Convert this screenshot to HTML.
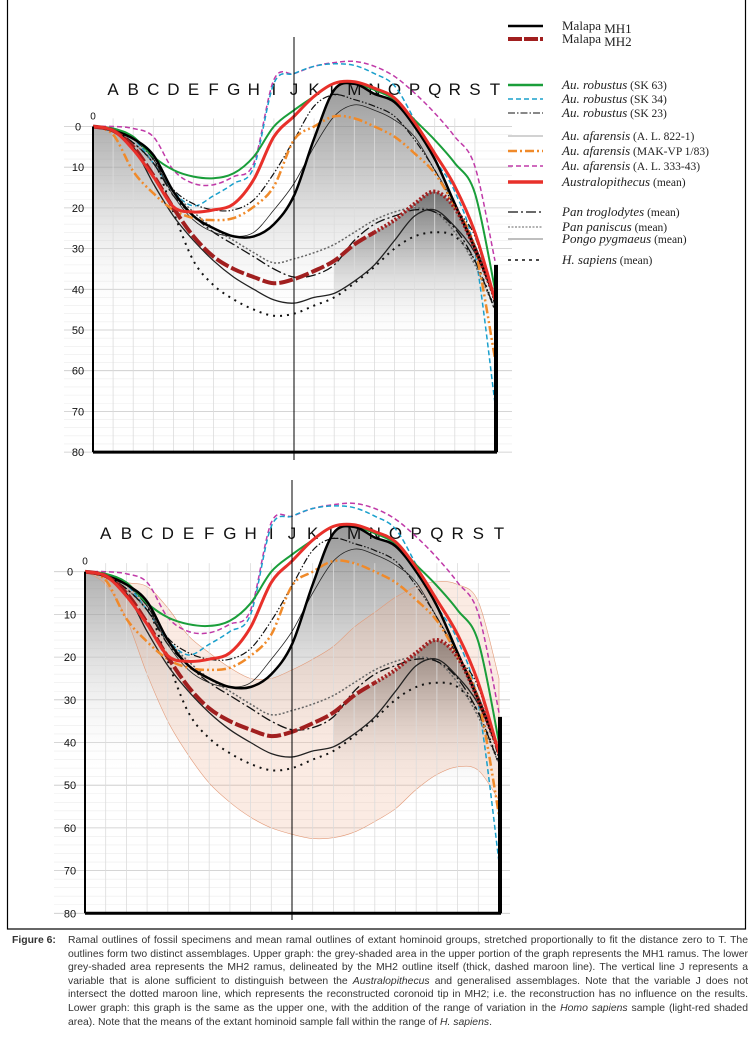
<!DOCTYPE html>
<html><head><meta charset="utf-8">
<style>
html,body{margin:0;padding:0;background:#fff;}
body{width:756px;height:1048px;position:relative;overflow:hidden;font-family:"Liberation Sans",sans-serif;}
#cap{position:absolute;left:12px;top:934px;width:736px;font-family:"Liberation Sans Narrow","Liberation Sans",sans-serif;font-size:10.4px;line-height:13.6px;color:#333;}
#cap b{position:absolute;left:0;top:0;font-weight:bold;}
#cap p{margin:0 0 0 56px;text-align:justify;}
</style></head><body>
<svg id="fig" width="756" height="1048" style="position:absolute;left:0;top:0">
<defs>
<linearGradient id="g1" x1="0" y1="0" x2="0" y2="1"><stop offset="0" stop-color="#555"/><stop offset="0.3" stop-color="#bbb"/><stop offset="0.65" stop-color="#fff" stop-opacity="0"/></linearGradient>
<linearGradient id="g2" x1="0" y1="0" x2="0" y2="1"><stop offset="0" stop-color="#333"/><stop offset="0.25" stop-color="#aaa"/><stop offset="0.6" stop-color="#fff" stop-opacity="0"/></linearGradient>
</defs>
<rect x="7.5" y="-2" width="738" height="931" fill="none" stroke="#000" stroke-width="1.2"/>
<g id="top"></g><g id="bot"></g><g id="legend"></g>
</svg>
<div id="cap"><b>Figure 6:</b><p>Ramal outlines of fossil specimens and mean ramal outlines of extant hominoid groups, stretched proportionally to fit the distance zero to T. The outlines form two distinct assemblages. Upper graph: the grey-shaded area in the upper portion of the graph represents the MH1 ramus. The lower grey-shaded area represents the MH2 ramus, delineated by the MH2 outline itself (thick, dashed maroon line). The vertical line J represents a variable that is alone sufficient to distinguish between the <i>Australopithecus</i> and generalised assemblages. Note that the variable J does not intersect the dotted maroon line, which represents the reconstructed coronoid tip in MH2; i.e. the reconstruction has no influence on the results. Lower graph: this graph is the same as the upper one, with the addition of the range of variation in the <i>Homo sapiens</i> sample (light-red shaded area). Note that the means of the extant hominoid sample fall within the range of <i>H. sapiens</i>.</p></div>
<script>
const categories=["0","A","B","C","D","E","F","G","H","I","J","K","L","M","N","O","P","Q","R","S","T"];
const yTicks=[0,10,20,30,40,50,60,70,80];
const mh1=[0,1,3,7,16,22,25,27,27,24,17,3,-9,-10.5,-8,-6,0,8,19,30,42];
const mh2=[0,1,5,12,20,27,32,35,37,38.5,37.5,35.5,33,29,26,23,19,16,20,30,42];
const sk63=[0,0.5,2.5,7.4,10.7,12.3,12.7,11.5,7.4,0,-4,-7.4,-10.6,-10.6,-9,-6.6,-1.6,3.3,9,16.4,40];
const sk34=[0,0.5,3,9,16,19.5,17,14,10,-10.6,-13,-14.8,-15.4,-15,-13,-10,-1.6,8,16,31,68];
const sk23=[0,0.5,3,8,15.5,19,20.5,20.5,18,11.5,3.3,-5,-7.8,-6.6,-5,-2.5,3.3,10.7,19.7,27,44];
const al822=[0,0.5,3,8,17,23,26,27,26,20.5,14,5,-2.5,-5.3,-4,-1.6,2.5,10.7,19,29,42];
const mak=[0,2,11,16.4,20.5,22.5,23,22.5,19.7,14.7,3.3,0,-2.5,-2,0,2.5,6.6,11.5,19.7,30,57];
const al333=[0,0,0.5,2.5,10.7,14,14.3,12.3,9,-11.5,-13,-14.8,-15.7,-16,-14.8,-12.3,-8.2,-3.3,2.5,9.8,33];
const ausMean=[0,1,5.7,12.3,19.7,21,20.5,19,13,2.5,-2.5,-7.4,-10.6,-11,-9.4,-7,-1,6.6,14.7,26,42.6];
const panTrog=[0,1,4,9,17,22,26,29,32,35,37,36.5,34,28,24,22,20.5,21,25,33,45];
const panPan=[0,1,4,9,16,21,25,28,31,33.5,32.5,31,29,26,23,21,20,21,26,34,45];
const pongo=[0,1,5,14,22,28,33,37,40,42.6,43.4,42,41,38,34,28,22,20.5,24.6,31,42];
const sapiens=[0,1,3,8,21,33,39,42.5,45,46.5,46,44,42,38.5,34.5,30,27,26,27,33,45];
const bandUpper=[0,1,2.5,3.5,8.5,15,19,22.5,25,25,23,20.5,17.5,13,9.5,6,3.5,2.3,3,7,25];
const bandLower=[0,3,11,24,35,43,49.5,54,57.5,60,61.5,62.5,62.3,61,58.5,55.5,51,47.5,45.7,46.5,53.5];

const NS="http://www.w3.org/2000/svg";
function mk(tag,attrs,parent){const e=document.createElementNS(NS,tag);for(const k in attrs)e.setAttribute(k,attrs[k]);parent.appendChild(e);return e;}
function smooth(pts){let d="M"+pts[0][0]+","+pts[0][1];for(let i=0;i<pts.length-1;i++){const p0=pts[Math.max(0,i-1)],p1=pts[i],p2=pts[i+1],p3=pts[Math.min(pts.length-1,i+2)];const c1x=p1[0]+(p2[0]-p0[0])/6,c1y=p1[1]+(p2[1]-p0[1])/6,c2x=p2[0]-(p3[0]-p1[0])/6,c2y=p2[1]-(p3[1]-p1[1])/6;d+=" C"+c1x.toFixed(1)+","+c1y.toFixed(1)+" "+c2x.toFixed(1)+","+c2y.toFixed(1)+" "+p2[0].toFixed(1)+","+p2[1].toFixed(1);}return d;}

function drawChart(g,c){
  const X=i=>c.x0+i*c.step, Y=v=>c.y0+v*c.k;
  const pts=arr=>arr.map((v,i)=>[X(i),Y(v)]);
  for(let v=0;v<=80;v+=2){const l=mk("line",{x1:c.gl,x2:c.gr,y1:Y(v),y2:Y(v),stroke:v%10==0?"#c8c8c8":"#ececec","stroke-width":v%10==0?0.8:0.6},g);
    
    }
  const f1=mk("path",{d:smooth(pts(mh1))+" L"+X(20)+","+Y(80)+" L"+X(0)+","+Y(80)+"Z",fill:"url(#g1)",opacity:0.6},g);
  
  
  const f2=mk("path",{d:smooth(pts(mh2).slice(12))+" L"+X(20)+","+Y(80)+" L"+X(12)+","+Y(80)+"Z",fill:"url(#g2)",opacity:0.6},g);
  
  
  if(c.band){
    const up=pts(bandUpper), lo=pts(bandLower).reverse();
    const sl=smooth(lo);
    const b=mk("path",{d:smooth(up)+" L"+lo[0][0]+","+lo[0][1]+sl.slice(sl.indexOf("C")-1)+"Z",fill:"#eeb090","fill-opacity":0.25,stroke:"#e29a78","stroke-width":0.6},g);
    
    
  }
  for(let i=1;i<20;i++){const l=mk("line",{x1:X(i),x2:X(i),y1:Y(-2),y2:Y(80),stroke:"#dcdcdc","stroke-width":0.8},g);
    
    }
  categories.forEach((t,i)=>{if(i==0)return;const e=mk("text",{x:X(i),y:c.ly,"text-anchor":"middle","font-size":17,"font-family":"Liberation Sans, sans-serif",fill:"#111"},g);e.textContent=t;
    
    });
  const z=mk("text",{x:X(0),y:Y(0)-7,"text-anchor":"middle","font-size":10,fill:"#111"},g);z.textContent="0";
  
  
  yTicks.forEach(v=>{const e=mk("text",{x:c.tx,y:Y(v)+4,"text-anchor":"middle","font-size":11,fill:"#111"},g);e.textContent=v;
    
    });
  const S=(arr,name,st)=>{const p=mk("path",Object.assign({d:smooth(pts(arr)),fill:"none","stroke-linejoin":"round"},st),g);
    
    };
  S(al333,"au-afarensis-al333-line",{stroke:"#c03aa8","stroke-width":1.5,"stroke-dasharray":"5 3"});
  S(sk34,"au-robustus-sk34-line",{stroke:"#1aa0cc","stroke-width":1.5,"stroke-dasharray":"5 3"});
  S(sapiens,"h-sapiens-line",{stroke:"#111","stroke-width":2,"stroke-dasharray":"2 5"});
  S(panPan,"pan-paniscus-line",{stroke:"#666","stroke-width":1.5,"stroke-dasharray":"2 2"});
  S(pongo,"pongo-pygmaeus-line",{stroke:"#222","stroke-width":1.3});
  S(panTrog,"pan-troglodytes-line",{stroke:"#111","stroke-width":1.3,"stroke-dasharray":"10 3 2 3"});
  S(al822,"au-afarensis-al822-line",{stroke:"#222","stroke-width":0.8});
  S(sk23,"au-robustus-sk23-line",{stroke:"#111","stroke-width":1.2,"stroke-dasharray":"7 2 1.5 2 1.5 2"});
  S(mak,"au-afarensis-mak-line",{stroke:"#f08a2a","stroke-width":2.5,"stroke-dasharray":"9 3 2 3 2 3"});
  S(sk63,"au-robustus-sk63-line",{stroke:"#1a9e3a","stroke-width":2});
  S(mh1,"malapa-mh1-line",{stroke:"#000","stroke-width":2.5});
  const m2=pts(mh2);
  const d1=mk("path",{d:smooth(m2.slice(0,15)),fill:"none",stroke:"#a11f1f","stroke-width":4,"stroke-dasharray":"14 3"},g);
  
  
  const d2=mk("path",{d:smooth(m2.slice(14)),fill:"none",stroke:"#a11f1f","stroke-width":4,"stroke-dasharray":"2 2"},g);
  
  
  S(ausMean,"australopithecus-mean-line",{stroke:"#e8302a","stroke-width":3});
  const a=mk("line",{x1:X(0),x2:X(0),y1:Y(0),y2:Y(80),stroke:"#000","stroke-width":2},g);
  
  
  const bx=mk("line",{x1:X(0),x2:X(20)+2,y1:Y(80),y2:Y(80),stroke:"#000","stroke-width":3},g);
  
  
  const rb=mk("rect",{x:X(20)-1,y:Y(34),width:4,height:Y(80)-Y(34),fill:"#000"},g);
  
  
  const j=mk("line",{x1:X(10),x2:X(10),y1:c.jt,y2:c.jb,stroke:"#000","stroke-width":1},g);
  
  
}
drawChart(document.getElementById("top"),{x0:93,step:20.1,y0:126.5,k:4.07,gl:64,gr:512,ly:95,tx:78,jt:37,jb:460,band:false});
drawChart(document.getElementById("bot"),{x0:85,step:20.7,y0:571.7,k:4.27,gl:54,gr:510,ly:539,tx:70,jt:480,jb:920,band:true});

const legendLabels=[["Malapa ","MH1"],["Malapa ","MH2"],["Au. robustus"," (SK 63)"],["Au. robustus"," (SK 34)"],["Au. robustus"," (SK 23)"],["Au. afarensis"," (A. L. 822-1)"],["Au. afarensis"," (MAK-VP 1/83)"],["Au. afarensis"," (A. L. 333-43)"],["Australopithecus"," (mean)"],["Pan troglodytes","  (mean)"],["Pan paniscus"," (mean)"],["Pongo pygmaeus"," (mean)"],["H. sapiens"," (mean)"]];
const legendY=[26,39,85,99,113,136,151,166,182,212,227,239,260];
const legendStyles=[{stroke:"#000","stroke-width":2.5},{stroke:"#a11f1f","stroke-width":4,"stroke-dasharray":"14 2"},{stroke:"#1a9e3a","stroke-width":2.5},{stroke:"#1aa0cc","stroke-width":1.5,"stroke-dasharray":"5 3"},{stroke:"#111","stroke-width":1,"stroke-dasharray":"7 2 1.5 2"},{stroke:"#888","stroke-width":0.8},{stroke:"#f08a2a","stroke-width":2.5,"stroke-dasharray":"9 3 2 3"},{stroke:"#c03aa8","stroke-width":1.5,"stroke-dasharray":"5 3"},{stroke:"#e8302a","stroke-width":3.5},{stroke:"#111","stroke-width":1.3,"stroke-dasharray":"10 3 2 3"},{stroke:"#666","stroke-width":1,"stroke-dasharray":"2 1.5"},{stroke:"#aaa","stroke-width":1.5},{stroke:"#111","stroke-width":1.5,"stroke-dasharray":"3 4"}];
const lg=document.getElementById("legend");
legendLabels.forEach((lab,i)=>{
  const y=legendY[i];
  const ln=mk("line",Object.assign({x1:508,x2:543,y1:y,y2:y},legendStyles[i]),lg);
  
  
  const t=mk("text",{x:562,y:y+4,"font-family":"Liberation Serif, serif","font-size":13,fill:"#222"},lg);
  
  
  const s1=mk("tspan",{"font-style":i<2?"normal":"italic"},t);s1.textContent=lab[0];
  const s2=mk("tspan",{"font-size":i<2?13:11.5,dy:i<2?3:0},t);s2.textContent=lab[1];
});
</script>
</body></html>
